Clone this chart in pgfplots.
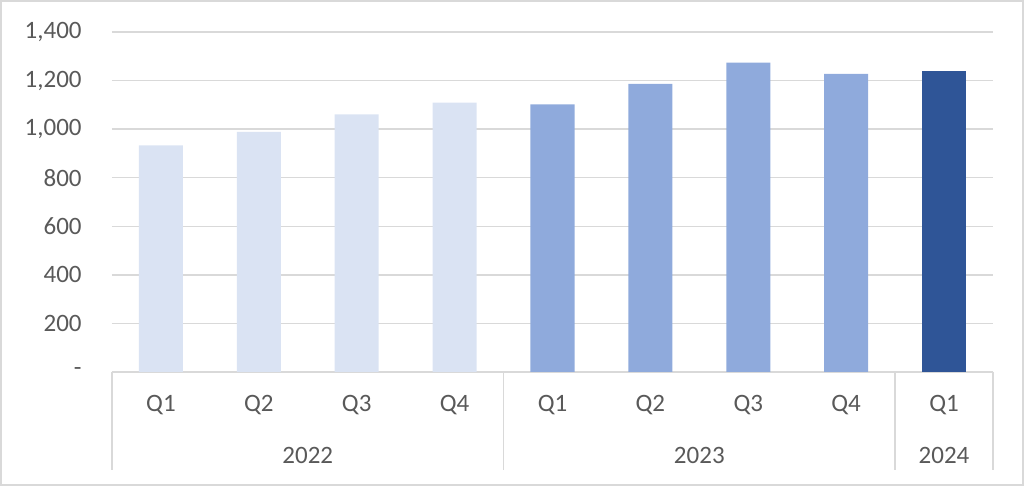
\documentclass[border=0pt]{standalone}
\usepackage{pgfplots}
\pgfplotsset{compat=1.18}
\usepackage{fontspec}
\setmainfont{Carlito}

\definecolor{lightbar}{HTML}{DAE3F3}
\definecolor{midbar}{HTML}{8FAADC}
\definecolor{darkbar}{HTML}{2F5597}
\definecolor{txt}{HTML}{595959}
\definecolor{gridgray}{HTML}{D9D9D9}

\begin{document}
\begin{tikzpicture}[x=1pt,y=1pt]
% frame of the chart area (1px = 0.5pt)
\path[use as bounding box] (0,0) rectangle (512,243);
\draw[gridgray, line width=1pt] (0.5,0.5) rectangle (511.5,242.5);

\begin{axis}[at={(56pt,57pt)}, anchor=south west,
  width=440.5pt, height=170pt, scale only axis,
  xmin=-0.5, xmax=8.5, ymin=0, ymax=1400,
  ytick={0,200,...,1400},
  yticklabels={-,200,400,600,800,{1,000},{1,200},{1,400}},
  xtick={0,...,8},
  xticklabels={Q1,Q2,Q3,Q4,Q1,Q2,Q3,Q4,Q1},
  /pgf/number format/assume math mode=true,
  major tick length=0pt,
  ymajorgrids, grid style={gridgray, line width=0.75pt},
  axis x line*=bottom, axis y line*=left,
  y axis line style={draw=none},
  x axis line style={gridgray, line width=0.75pt, -},
  tick label style={font=\fontsize{12.5}{14}\selectfont, text=txt},
  yticklabel style={anchor=east, inner sep=0pt, xshift=-15pt},
  xticklabel style={anchor=center, inner sep=0pt, yshift=-16.5pt},
  clip=false,
]
\addplot[ybar, bar width=0.45, bar shift=0pt, fill=lightbar, draw=none]
  coordinates {(0,933) (1,989) (2,1061) (3,1109)};
\addplot[ybar, bar width=0.45, bar shift=0pt, fill=midbar, draw=none]
  coordinates {(4,1102) (5,1186) (6,1274) (7,1228)};
\addplot[ybar, bar width=0.45, bar shift=0pt, fill=darkbar, draw=none]
  coordinates {(8,1238)};

% multi-level category separators and year labels
\draw[gridgray, line width=0.75pt] (axis cs:-0.5,0) -- ++(0pt,-49pt);
\draw[gridgray, line width=0.75pt] (axis cs:3.5,0) -- ++(0pt,-49pt);
\draw[gridgray, line width=0.75pt] (axis cs:7.5,0) -- ++(0pt,-49pt);
\draw[gridgray, line width=0.75pt] (axis cs:8.5,0) -- ++(0pt,-49pt);
\node[text=txt, font=\fontsize{12.5}{14}\selectfont] at ([yshift=-41.5pt]axis cs:1.5,0) {2022};
\node[text=txt, font=\fontsize{12.5}{14}\selectfont] at ([yshift=-41.5pt]axis cs:5.5,0) {2023};
\node[text=txt, font=\fontsize{12.5}{14}\selectfont] at ([yshift=-41.5pt]axis cs:8,0) {2024};
\end{axis}
\end{tikzpicture}
\end{document}
